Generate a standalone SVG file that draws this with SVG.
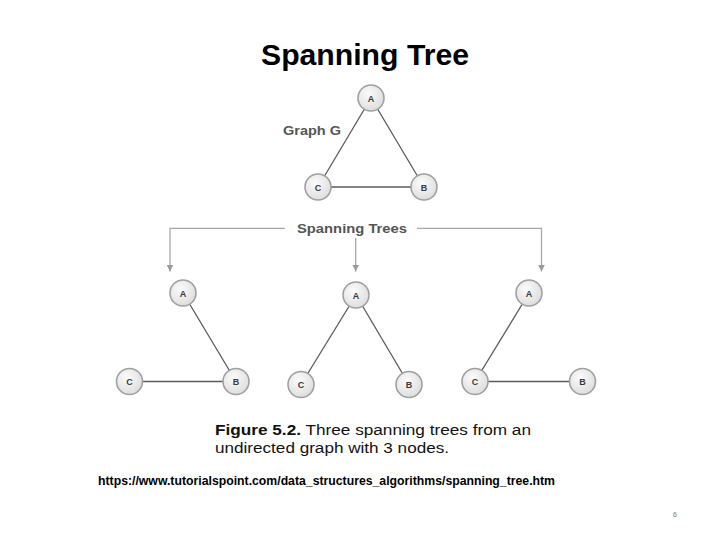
<svg xmlns="http://www.w3.org/2000/svg" width="720" height="540" viewBox="0 0 720 540">
<defs>
<radialGradient id="ng" cx="0.4" cy="0.35" r="0.7">
<stop offset="0" stop-color="#fbfbfb"/>
<stop offset="1" stop-color="#dcdcdc"/>
</radialGradient>
<marker id="ah" viewBox="0 0 10 10" refX="10" refY="5" markerWidth="7" markerHeight="7" markerUnits="userSpaceOnUse" orient="auto">
<path d="M0,0 L10,5 L0,10 z" fill="#9a9a9a"/>
</marker>
</defs>
<style>
.node circle{fill:url(#ng);stroke:#a0a0a0;stroke-width:1.6}
.node text{font-family:"Liberation Sans",Arial,sans-serif;font-weight:bold;font-size:9px;fill:#3a3a3a;text-anchor:middle}
.edge{stroke:#5a5a5a;stroke-width:1.3;fill:none}
.flow{stroke:#a8a8a8;stroke-width:1.3;fill:none}
.lbl{font-family:"Liberation Sans",Arial,sans-serif;font-weight:bold;fill:#555}
</style>
<rect width="720" height="540" fill="#ffffff"/>
<text x="365" y="65" text-anchor="middle" font-family="'Liberation Sans',Arial,sans-serif" font-weight="bold" font-size="29" textLength="208" lengthAdjust="spacingAndGlyphs" fill="#000">Spanning Tree</text>
<text class="lbl" x="283" y="135" font-size="12.5" textLength="58" lengthAdjust="spacingAndGlyphs">Graph G</text>
<text class="lbl" x="297" y="232.5" font-size="12.5" textLength="110" lengthAdjust="spacingAndGlyphs">Spanning Trees</text>
<g id="connectors">
<line class="edge" x1="371" y1="98" x2="318" y2="187"/>
<line class="edge" x1="371" y1="98" x2="424" y2="187"/>
<line class="edge" x1="318" y1="187" x2="424" y2="187"/>
<polyline class="flow" points="285,228.3 170,228.3 170,271.5" marker-end="url(#ah)"/>
<polyline class="flow" points="417,228.3 541.5,228.3 541.5,271.5" marker-end="url(#ah)"/>
<line class="flow" x1="355.7" y1="238" x2="355.7" y2="271.5" marker-end="url(#ah)"/>
<line class="edge" x1="183" y1="293" x2="236" y2="381.5"/>
<line class="edge" x1="129.5" y1="381.5" x2="236" y2="381.5"/>
<line class="edge" x1="356" y1="295" x2="301" y2="384.5"/>
<line class="edge" x1="356" y1="295" x2="409" y2="384.5"/>
<line class="edge" x1="529" y1="293" x2="475" y2="381.5"/>
<line class="edge" x1="475" y1="381.5" x2="582.5" y2="381.5"/>
</g>
<g id="gA" class="node"><circle cx="371" cy="98" r="13"/><text x="371" y="101.5">A</text></g>
<g id="gC" class="node"><circle cx="318" cy="187" r="13"/><text x="318" y="190.5">C</text></g>
<g id="gB" class="node"><circle cx="424" cy="187" r="13"/><text x="424" y="190.5">B</text></g>
<g id="t1A" class="node"><circle cx="183" cy="293" r="13"/><text x="183" y="296.5">A</text></g>
<g id="t1C" class="node"><circle cx="129.5" cy="381.5" r="13"/><text x="129.5" y="385">C</text></g>
<g id="t1B" class="node"><circle cx="236" cy="381.5" r="13"/><text x="236" y="385">B</text></g>
<g id="t2A" class="node"><circle cx="356" cy="295" r="13"/><text x="356" y="298.5">A</text></g>
<g id="t2C" class="node"><circle cx="301" cy="384.5" r="13"/><text x="301" y="388">C</text></g>
<g id="t2B" class="node"><circle cx="409" cy="384.5" r="13"/><text x="409" y="388">B</text></g>
<g id="t3A" class="node"><circle cx="529" cy="293" r="13"/><text x="529" y="296.5">A</text></g>
<g id="t3C" class="node"><circle cx="475" cy="381.5" r="13"/><text x="475" y="385">C</text></g>
<g id="t3B" class="node"><circle cx="582.5" cy="381.5" r="13"/><text x="582.5" y="385">B</text></g>
<text x="215" y="435" font-family="'Liberation Sans',Arial,sans-serif" font-size="15.5" fill="#111" textLength="316" lengthAdjust="spacingAndGlyphs"><tspan font-weight="bold">Figure 5.2.</tspan> Three spanning trees from an</text>
<text x="215" y="452.5" font-family="'Liberation Sans',Arial,sans-serif" font-size="15.5" fill="#111" textLength="234" lengthAdjust="spacingAndGlyphs">undirected graph with 3 nodes.</text>
<text x="98" y="484.5" font-family="'Liberation Sans',Arial,sans-serif" font-weight="bold" font-size="13" fill="#000" textLength="457" lengthAdjust="spacingAndGlyphs">https://www.tutorialspoint.com/data_structures_algorithms/spanning_tree.htm</text>
<text x="673" y="516.5" font-family="'Liberation Sans',Arial,sans-serif" font-size="7" fill="#777">6</text>
</svg>
